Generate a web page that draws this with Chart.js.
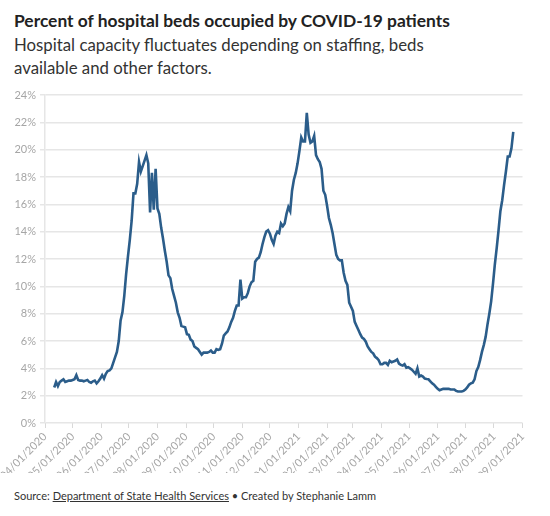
<!DOCTYPE html>
<html lang="en">
<head>
    <meta charset="UTF-8">
    <title>Percent of hospital beds occupied by COVID-19 patients</title>
    <script src="https://cdn.jsdelivr.net/npm/chart.js"></script>
    <style>
        body {
            margin: 0;
            width: 550px;
            height: 516px;
            background: #fff;
            font-family: Lato, "Liberation Sans", sans-serif;
            position: relative;
            overflow: hidden;
        }
        .title {
            position: absolute;
            left: 14px;
            top: 10px;
            font-size: 17.4px;
            font-weight: 700;
            color: #222;
            white-space: nowrap;
        }
        .subtitle {
            position: absolute;
            left: 14px;
            top: 33px;
            width: 440px;
            font-size: 16.8px;
            line-height: 23px;
            color: #333;
        }
        .chart-box {
            position: absolute;
            left: 0;
            top: 80px;
            width: 550px;
            height: 393px;
        }
        .footer {
            position: absolute;
            left: 14px;
            top: 489px;
            font-size: 11px;
            color: #333;
            white-space: nowrap;
        }
        .footer span { text-decoration: underline; }
    </style>
</head>
<body>
    <div class="title">Percent of hospital beds occupied by COVID-19 patients</div>
    <div class="subtitle">Hospital capacity fluctuates depending on staffing, beds available and other factors.</div>

    <div class="chart-box">
        <canvas id="bedsChart"></canvas>
    </div>

    <div class="footer">Source: <span>Department of State Health Services</span> • Created by Stephanie Lamm</div>

    <script>
        // x axis runs from 04/01/2020 to 09/01/2021, one tick per month
        var tickLabels = ['04/01/2020', '05/01/2020', '06/01/2020', '07/01/2020', '08/01/2020', '09/01/2020',
            '10/01/2020', '11/01/2020', '12/01/2020', '01/01/2021', '02/01/2021', '03/01/2021',
            '04/01/2021', '05/01/2021', '06/01/2021', '07/01/2021', '08/01/2021', '09/01/2021'];

        // y axis ticks (percent)
        var yTicks = [0, 2, 4, 6, 8, 10, 12, 14, 16, 18, 20, 22, 24];

        // readings every 2 days, starting 04/11/2020
        var firstDate = '04/11/2020';
        var stepDays = 2;
        var pctOccupied = [
            2.6, 3.0, 2.7, 3.0, 3.1, 3.2, 3.0, 3.05, 3.1, 3.1,
            3.15, 3.2, 3.5, 3.15, 3.1, 3.1, 3.05, 3.1, 3.15, 3.0,
            2.95, 3.05, 3.1, 2.9, 3.05, 3.25, 3.5, 3.25, 3.6, 3.8,
            3.85, 4.0, 4.4, 4.8, 5.2, 6.0, 7.5, 8.1, 9.3, 10.9,
            12.2, 13.4, 14.8, 16.8, 16.8, 17.5, 19.1, 18.4, 18.8, 19.2,
            19.6, 19.0, 15.4, 18.3, 15.6, 18.6, 15.7, 15.3, 14.3, 13.5,
            12.6, 11.8, 10.8, 10.6, 9.8, 9.3, 8.8, 8.1, 7.7, 7.1,
            7.05, 7.0, 6.5, 6.45, 6.1, 6.0, 5.6, 5.5, 5.4, 5.2,
            5.0, 5.15, 5.15, 5.15, 5.2, 5.3, 5.15, 5.15, 5.4, 5.35,
            5.4, 5.8, 6.4, 6.55, 6.7, 7.0, 7.4, 7.7, 8.2, 8.6,
            8.6, 10.5, 9.1, 9.2, 9.2, 9.5, 10.0, 10.3, 10.4, 11.8,
            12.0, 12.1, 12.5, 13.1, 13.6, 14.0, 14.1, 13.85, 13.4, 13.1,
            13.7, 14.0, 13.9, 14.6, 14.4, 14.6, 15.3, 15.8, 15.5, 17.0,
            17.8, 18.3, 19.0, 19.9, 20.9, 20.6, 20.6, 22.7, 21.1, 20.5,
            20.6, 21.0, 19.6, 19.3, 19.1, 18.6, 17.0, 16.7, 15.9, 15.0,
            14.5, 13.9, 13.1, 12.3, 12.0, 11.9, 11.9, 11.0, 10.4, 10.1,
            8.8, 8.5, 8.2, 7.4, 7.1, 6.8, 6.5, 6.25, 6.15, 5.95,
            5.6, 5.4, 5.2, 5.1, 4.85, 4.75, 4.6, 4.3, 4.3, 4.4,
            4.4, 4.25, 4.55, 4.45, 4.5, 4.55, 4.65, 4.35, 4.25, 4.2,
            4.3, 4.05, 4.08, 4.0, 3.9, 3.75, 3.6, 4.0, 3.4, 3.47,
            3.4, 3.25, 3.22, 3.2, 3.05, 2.9, 2.8, 2.65, 2.5, 2.4,
            2.45, 2.5, 2.5, 2.5, 2.5, 2.45, 2.45, 2.45, 2.35, 2.3,
            2.3, 2.3, 2.35, 2.45, 2.6, 2.8, 2.9, 2.95, 3.2, 3.8,
            4.1, 4.6, 5.2, 5.7, 6.3, 7.2, 8.0, 8.9, 10.2, 11.6,
            12.8, 14.1, 15.5, 16.3, 17.4, 18.4, 19.5, 19.5, 20.1, 21.3
        ];

        function dayOf(str) {
            var p = str.split('/');
            return Date.UTC(+p[2], +p[0] - 1, +p[1]) / 86400000;
        }

        var origin = dayOf(tickLabels[0]);
        var tickDays = tickLabels.map(function (t) { return dayOf(t) - origin; });
        var start = dayOf(firstDate) - origin;
        var points = pctOccupied.map(function (v, i) {
            return { x: start + i * stepDays, y: v };
        });

        var gridColor = '#e6e6e6';
        var tickColor = '#a6a6a6';

        var ctx = document.getElementById('bedsChart').getContext('2d');
        new Chart(ctx, {
            type: 'line',
            data: {
                datasets: [{
                    label: 'Percent of beds occupied',
                    data: points,
                    borderColor: '#2b5d8a',
                    borderWidth: 2.6,
                    pointRadius: 0,
                    tension: 0,
                    fill: false
                }]
            },
            options: {
                responsive: true,
                maintainAspectRatio: false,
                animation: false,
                layout: {
                    padding: { top: 15, right: 27.5, bottom: 0, left: 0 }
                },
                plugins: {
                    legend: { display: false },
                    tooltip: { enabled: false }
                },
                scales: {
                    x: {
                        type: 'linear',
                        min: tickDays[0],
                        max: tickDays[tickDays.length - 1],
                        afterBuildTicks: function (scale) {
                            scale.ticks = tickDays.map(function (d) { return { value: d }; });
                        },
                        afterFit: function (scale) {
                            scale.height = 50;
                            scale.paddingLeft = 0;
                            scale.paddingRight = 0;
                        },
                        grid: {
                            drawOnChartArea: false,
                            drawTicks: true,
                            tickLength: 5,
                            color: '#d9d9d9',
                            lineWidth: 1
                        },
                        border: { display: false },
                        ticks: {
                            autoSkip: false,
                            minRotation: 45,
                            maxRotation: 45,
                            padding: 2,
                            color: tickColor,
                            font: { family: 'Lato', size: 11 },
                            callback: function (value, index) {
                                return tickLabels[index];
                            }
                        }
                    },
                    y: {
                        min: yTicks[0],
                        max: yTicks[yTicks.length - 1],
                        afterBuildTicks: function (scale) {
                            scale.ticks = yTicks.map(function (v) { return { value: v }; });
                        },
                        afterFit: function (scale) {
                            scale.width = 45;
                        },
                        grid: {
                            color: gridColor,
                            lineWidth: 1.5,
                            tickLength: 5
                        },
                        border: { display: true, color: gridColor, width: 1.5 },
                        ticks: {
                            padding: 4,
                            color: tickColor,
                            font: { family: 'Lato', size: 11 },
                            callback: function (value) { return value + '%'; }
                        }
                    }
                }
            }
        });
    </script>
</body>
</html>
